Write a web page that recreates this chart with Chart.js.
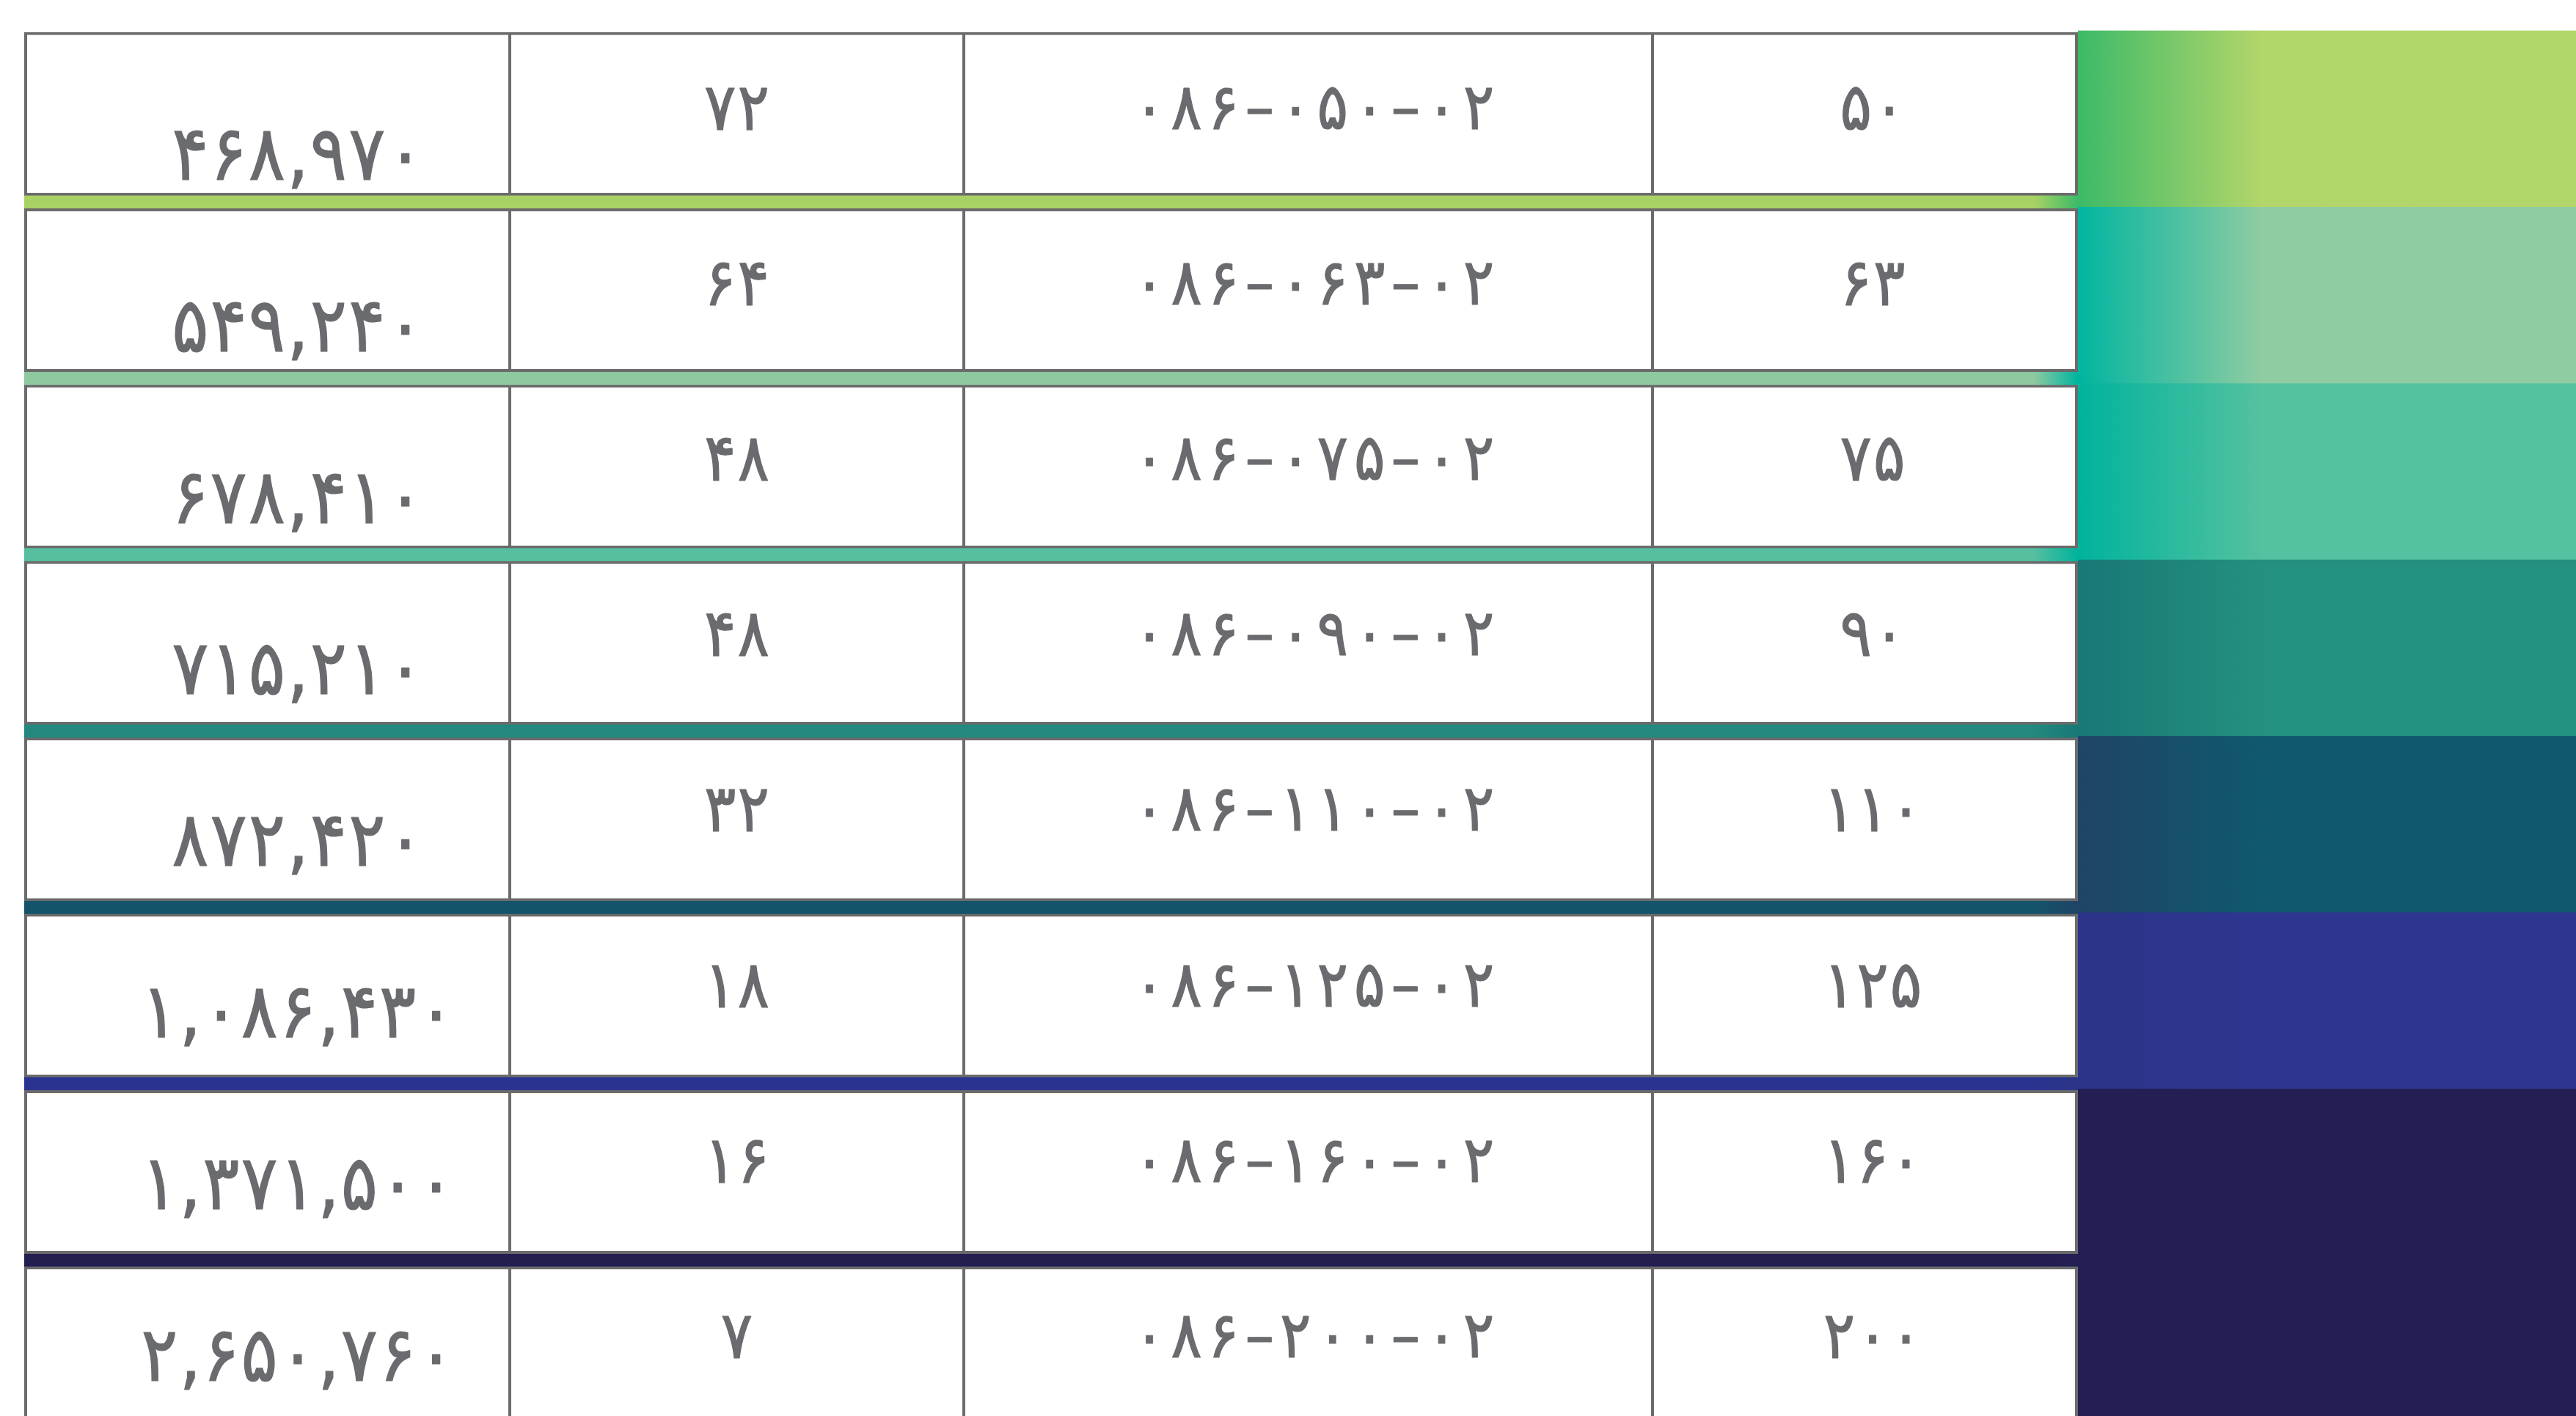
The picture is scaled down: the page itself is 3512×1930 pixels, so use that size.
<!DOCTYPE html>
<html>
<head>
<meta charset="utf-8">
<script src="https://cdn.jsdelivr.net/npm/chart.js@4.4.1/dist/chart.umd.min.js"></script>
<style>
    html, body { margin: 0; padding: 0; background: #ffffff; overflow: hidden; }
    #wrap { width: 3512px; height: 1958px; }
</style>
</head>
<body>
<div id="wrap"><canvas id="priceTable" width="3512" height="1958"></canvas></div>
<script>
// Table rows (top to bottom)
const sizes = [50, 63, 75, 90, 110, 125, 160, 200];
const codes = ['086-050-02', '086-063-02', '086-075-02', '086-090-02', '086-110-02', '086-125-02', '086-160-02', '086-200-02'];
const counts = [72, 64, 48, 48, 32, 18, 16, 7];
const prices = [468970, 549240, 678410, 715210, 872420, 1086430, 1371500, 2650760];

// Column layout (left to right, in canvas pixels)
const colEdges = [33, 695, 1314, 2253, 2833];

// Row colours: gradient block on the right and the band under each row
const rowColors = [
    { from: '#3dba68', to: '#b2d66a', stripe: '#a9d264' },
    { from: '#00b5a0', to: '#8fcca2', stripe: '#8ec9a0' },
    { from: '#00b39c', to: '#54c1a0', stripe: '#55bfa0' },
    { from: '#187876', to: '#24907f', stripe: '#23897e' },
    { from: '#1f4466', to: '#10586e', stripe: '#14546a' },
    { from: '#2b3488', to: '#2e3590', stripe: '#2a3490' },
    { from: '#231f55', to: '#231f55', stripe: '#221e50' },
    { from: '#231f55', to: '#231f55', stripe: '#221e50' },
];

const TEXT_COLOR = '#6a6b6e';
const BORDER_COLOR = '#6b6b6b';
const FONT_FAMILY = '"DejaVu Sans Condensed", "DejaVu Sans", sans-serif';

// Latin digits -> Persian digits
function toFa(str) {
    return String(str).replace(/[0-9]/g, d => '۰۱۲۳۴۵۶۷۸۹'[d]);
}
function withCommas(n) {
    return String(n).replace(/\B(?=(\d{3})+(?!\d))/g, ',');
}

const rowLabels = sizes.map(s => toFa(s));
const columns = [
    { texts: prices.map(p => toFa(withCommas(p))), font: 104, spacing: 2, shift: 42, offset: i => 168 - 6.6 * i },
    { texts: counts.map(c => toFa(c)), font: 90, spacing: 2, shift: 0, offset: i => 104 - 1.3 * i },
    { texts: codes.map(c => toFa(c.replace(/-/g, '–'))), font: 88, spacing: 8, shift: 8, offset: i => 104 - 1.3 * i },
    { texts: sizes.map(s => toFa(s)), font: 90, spacing: 2, shift: 10, offset: i => 104 - 1.3 * i },
];

const datasets = columns.map((col, c) => ({
    label: 'col' + c,
    data: rowLabels.map(() => [colEdges[c], colEdges[c + 1]]),
    backgroundColor: '#ffffff',
    borderColor: BORDER_COLOR,
    borderWidth: {
        top: 4,
        bottom: 4,
        left: c === 0 ? 4 : 2,
        right: c === columns.length - 1 ? 4 : 2,
    },
    borderSkipped: false,
    barPercentage: 223 / 240.3,
    categoryPercentage: 1,
    grouped: false,
}));

// Draws a digit string glyph by glyph, centred on cx, with extra spacing
function drawSpaced(ctx, text, cx, baseline, spacing) {
    const chars = Array.from(text);
    const widths = chars.map(ch => ctx.measureText(ch).width);
    const total = widths.reduce((a, b) => a + b, 0) + spacing * (chars.length - 1);
    let x = cx - total / 2;
    chars.forEach((ch, k) => {
        ctx.fillText(ch, x, baseline);
        ctx.strokeText(ch, x, baseline);
        x += widths[k] + spacing;
    });
}

// Bands between rows, coloured blocks on the right, cell texts
const bandsPlugin = {
    id: 'bands',
    beforeDatasetsDraw(chart) {
        const ctx = chart.ctx;
        const first = chart.getDatasetMeta(0).data;
        const last = chart.getDatasetMeta(columns.length - 1).data;
        const tableLeft = first[0].base;
        const tableRight = last[0].x;
        const tops = first.map(el => el.y - el.height / 2);
        const bottoms = first.map(el => el.y + el.height / 2);

        ctx.save();
        rowColors.forEach((rc, i) => {
            const top = tops[i];
            const bottom = i + 1 < tops.length ? tops[i + 1] : chart.height;

            // right-hand block
            const g = ctx.createLinearGradient(tableRight, 0, tableRight + 250, 0);
            g.addColorStop(0, rc.from);
            g.addColorStop(1, rc.to);
            ctx.fillStyle = g;
            ctx.fillRect(tableRight, top - 2, chart.width - tableRight, bottom - top + 2);

            // band under the row
            if (i + 1 < tops.length) {
                const sg = ctx.createLinearGradient(tableRight - 60, 0, tableRight, 0);
                sg.addColorStop(0, rc.stripe);
                sg.addColorStop(1, rc.from);
                ctx.fillStyle = sg;
                ctx.fillRect(tableLeft, bottoms[i] - 2, tableRight - tableLeft, tops[i + 1] - bottoms[i] + 4);
            }
        });
        ctx.restore();
    },
    afterDatasetsDraw(chart) {
        const ctx = chart.ctx;
        ctx.save();
        ctx.fillStyle = TEXT_COLOR;
        ctx.strokeStyle = TEXT_COLOR;
        ctx.lineWidth = 1.2;
        ctx.lineJoin = 'round';
        ctx.textAlign = 'left';
        ctx.textBaseline = 'alphabetic';
        ctx.direction = 'ltr';
        columns.forEach((col, c) => {
            ctx.font = `${col.font}px ${FONT_FAMILY}`;
            // centre on the digit height, ignoring the comma tail
            const digitH = ctx.measureText('۰۱۲۳۴۵۶۷۸۹').actualBoundingBoxAscent;
            chart.getDatasetMeta(c).data.forEach((el, i) => {
                const cx = (el.base + el.x) / 2 + col.shift;
                const cy = el.y - el.height / 2 + col.offset(i);
                drawSpaced(ctx, col.texts[i], cx, cy + digitH / 2, col.spacing);
            });
        });
        ctx.restore();
    }
};

new Chart(document.getElementById('priceTable'), {
    type: 'bar',
    data: { labels: rowLabels, datasets: datasets },
    plugins: [bandsPlugin],
    options: {
        indexAxis: 'y',
        responsive: false,
        animation: false,
        layout: { padding: { top: 35, left: 0, right: 0, bottom: 0 } },
        scales: {
            x: { type: 'linear', min: 0, max: 3512, display: false },
            y: { type: 'category', display: false, offset: true },
        },
        plugins: {
            legend: { display: false },
            tooltip: { enabled: false },
        },
    },
});
</script>
</body>
</html>
